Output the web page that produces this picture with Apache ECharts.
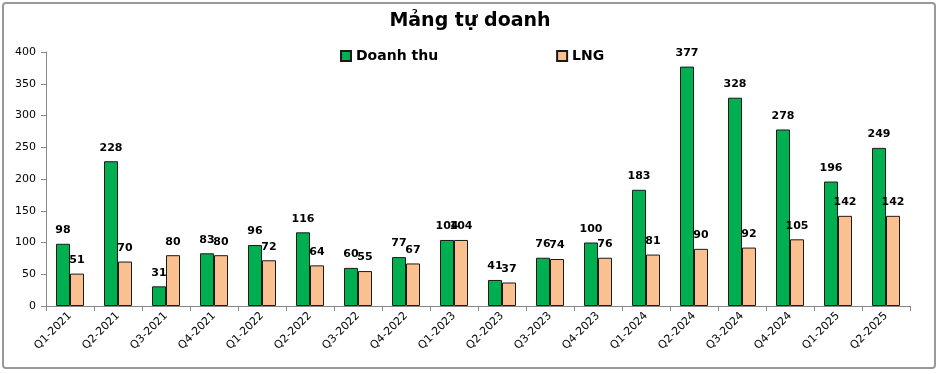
<!DOCTYPE html>
<html><head><meta charset="utf-8">
<script src="https://cdn.jsdelivr.net/npm/echarts@6/dist/echarts.min.js"></script>
<style>html,body{margin:0;padding:0;background:#fff}#c{width:940px;height:374px}</style>
</head><body><div id="c"></div>
<script>
const categories = ["Q1-2021","Q2-2021","Q3-2021","Q4-2021","Q1-2022","Q2-2022","Q3-2022","Q4-2022","Q1-2023","Q2-2023","Q3-2023","Q4-2023","Q1-2024","Q2-2024","Q3-2024","Q4-2024","Q1-2025","Q2-2025"];
const doanhThu = [98,228,31,83,96,116,60,77,104,41,76,100,183,377,328,278,196,249];
const lng = [51,70,80,80,72,64,55,67,104,37,74,76,81,90,92,105,142,142];
const yTicks = [0,50,100,150,200,250,300,350,400];

const chart = echarts.init(document.getElementById('c'));
const lbl = {show:true, position:'top', distance:8, color:'#000', fontFamily:'DejaVu Sans', fontWeight:'bold', fontSize:11};
chart.setOption({
  animation:false,
  title:{text:'Mảng tự doanh', left:'center', top:7, textStyle:{fontFamily:'DejaVu Sans', fontWeight:'bold', fontSize:19, color:'#000'}},
  legend:{left:335, top:44, itemGap:118, itemWidth:10, itemHeight:10, icon:'rect',
    textStyle:{fontFamily:'DejaVu Sans', fontWeight:'bold', fontSize:14, color:'#000'}},
  graphic:[{type:'rect', shape:{x:3,y:3,width:932,height:365,r:3}, style:{fill:'none', stroke:'#999', lineWidth:2}, silent:true}],
  grid:{left:46, right:30, top:52, bottom:68},
  xAxis:{type:'category', data:categories,
    axisLine:{lineStyle:{color:'#888'}}, axisTick:{show:true, lineStyle:{color:'#888'}},
    axisLabel:{rotate:45, fontFamily:'DejaVu Sans', fontSize:11, color:'#000', margin:8}},
  yAxis:{type:'value', min:0, max:400, interval:50,
    axisLine:{show:true, lineStyle:{color:'#888'}}, axisTick:{show:true, lineStyle:{color:'#888'}},
    splitLine:{show:false},
    axisLabel:{fontFamily:'DejaVu Sans', fontSize:11, color:'#000', margin:10,
      formatter:v=>yTicks.includes(v)?String(v):''}},
  series:[
    {name:'Doanh thu', type:'bar', data:doanhThu, barWidth:14, barGap:'0%',
      itemStyle:{color:'#00B050', borderColor:'#1a1a1a', borderWidth:1}, label:lbl},
    {name:'LNG', type:'bar', data:lng, barWidth:14,
      itemStyle:{color:'#FAC090', borderColor:'#1a1a1a', borderWidth:1}, label:lbl}
  ]
});
</script></body></html>
